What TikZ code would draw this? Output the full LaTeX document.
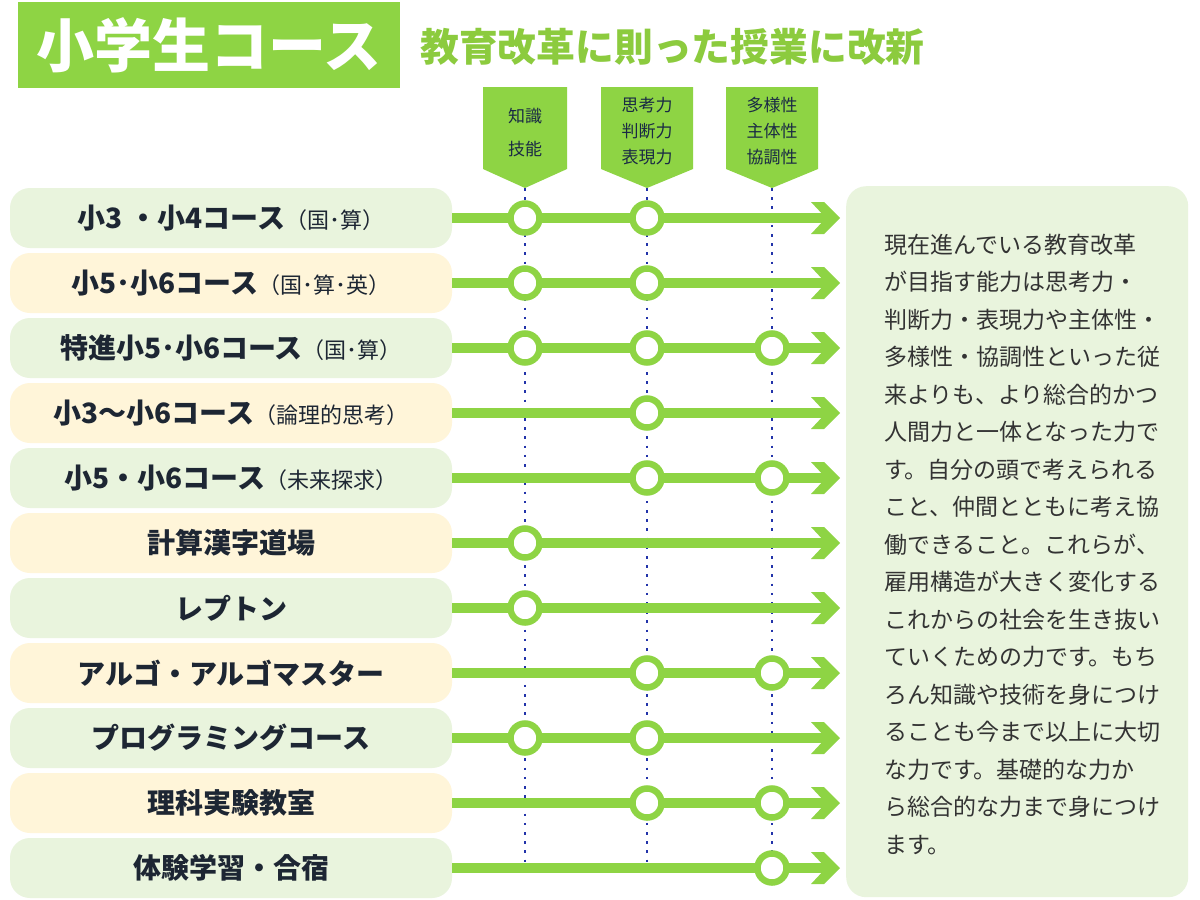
\documentclass[tikz,border=0pt]{standalone}
\usepackage{fontspec}
\newfontfamily\jp{Noto Sans CJK JP}
\definecolor{grn}{HTML}{8ED444}
\definecolor{subgrn}{HTML}{8CCB3E}
\definecolor{boxgrn}{HTML}{E9F4DD}
\definecolor{boxyel}{HTML}{FFF5D9}
\definecolor{navy}{HTML}{1D2633}
\definecolor{badgetxt}{HTML}{1A2A44}
\definecolor{dotblue}{HTML}{2233AA}
\definecolor{bodytxt}{HTML}{333333}
\newcommand\lblM[1]{{\fontsize{28}{28}\selectfont\bfseries #1}}
\newcommand\lblP[1]{{\fontsize{22}{22}\selectfont #1}}
\begin{document}
\begin{tikzpicture}[x=1pt,y=-1pt,font=\jp,
  rowbox/.style={minimum width=442,minimum height=60,rounded corners=20,inner sep=0,text=navy},
  rowline/.style={draw=grn,line width=10},
  chev/.style={fill=grn},
  ring/.style={circle,draw=grn,line width=6.5,fill=white,minimum size=29,inner sep=0},
  guide/.style={draw=dotblue,line width=2.6,dash pattern=on 2.6 off 6.6},
  badge/.style={fill=grn},
  badgetext/.style={text=badgetxt,font=\jp\fontsize{17}{26}\selectfont,align=center,inner sep=0},
  bodyline/.style={anchor=base west,inner sep=0,text=bodytxt,font=\jp\fontsize{23}{23}\selectfont}]
\useasboundingbox (0,0) rectangle (1200,900);
\fill[white] (0,0) rectangle (1200,900);
% title
\node[fill=grn,minimum width=382,minimum height=86,anchor=north west,inner sep=0,text=white] (title) at (18,2)
  {\fontsize{58}{58}\selectfont\bfseries 小学生コース};
\node[anchor=west,inner sep=0,text=subgrn] (subtitle) at (420,47)
  {\fontsize{38.8}{38.8}\selectfont\bfseries 教育改革に則った授業に改新};
% badges
\foreach \k/\x/\hw in {1/525/42,2/647/46,3/772/46}{
  \fill[badge] (\x-\hw,87) -- (\x+\hw,87) -- (\x+\hw,169) -- (\x,188) -- (\x-\hw,169) -- cycle;
  \coordinate (tip\k) at (\x,188);
  \coordinate (bot\k) at (\x,867);
}
\node[badgetext,font=\jp\fontsize{17}{33}\selectfont] (b1) at (525,133) {知識\\技能};
\node[badgetext] (b2) at (647,131) {思考力\\判断力\\表現力};
\node[badgetext] (b3) at (772,131) {多様性\\主体性\\協調性};
% guides
\foreach \k in {1,2,3}{ \draw[guide] (tip\k) -- (bot\k); }
% rows
\foreach \i/\c/\t in {
  1/boxgrn/{\lblM{小3 ・小4コース}\lblP{（国･算）}},
  2/boxyel/{\lblM{小5･小6コース}\lblP{（国･算･英）}},
  3/boxgrn/{\lblM{特進小5･小6コース}\lblP{（国･算）}},
  4/boxyel/{\lblM{小3〜小6コース}\lblP{（論理的思考）}},
  5/boxgrn/{\lblM{小5・小6コース}\lblP{（未来探求）}},
  6/boxyel/{\lblM{計算漢字道場}},
  7/boxgrn/{\lblM{レプトン}},
  8/boxyel/{\lblM{アルゴ・アルゴマスター}},
  9/boxgrn/{\lblM{プログラミングコース}},
  10/boxyel/{\lblM{理科実験教室}},
  11/boxgrn/{\lblM{体験学習・合宿}}}{
  \pgfmathsetmacro\yy{218+65*(\i-1)}
  \node[rowbox,fill=\c] (r\i) at (231,\yy) {\t};
  \coordinate (e\i) at (829,\yy);
  \draw[rowline] (r\i.east) -- (e\i);
  \fill[chev] (811,\yy-16) -- (824,\yy-16) -- (840,\yy) -- (824,\yy+16) -- (811,\yy+16) -- (826,\yy) -- cycle;
}
% rings
\foreach \i/\k/\x in {1/1/525,1/2/647,2/1/525,2/2/647,3/1/525,3/2/647,3/3/772,
  4/2/647,5/2/647,5/3/772,6/1/525,7/1/525,8/2/647,8/3/772,9/1/525,9/2/647,
  10/2/647,10/3/772,11/3/772}{
  \pgfmathsetmacro\yy{218+65*(\i-1)}
  \node[ring] (c\i-\k) at (\x,\yy) {};
}
% description
\node[fill=boxgrn,rounded corners=20,minimum width=342,minimum height=711,anchor=north west,inner sep=0] (desc) at (846,186) {};
\foreach \n/\s in {1/現在進んでいる教育改革,2/が目指す能力は思考力・,3/判断力・表現力や主体性・,
  4/多様性・協調性といった従,5/来よりも、より総合的かつ,6/人間力と一体となった力で,
  7/す。自分の頭で考えられる,8/こと、仲間とともに考え協,9/働できること。これらが、,
  10/雇用構造が大きく変化する,11/これからの社会を生き抜い,12/ていくための力です。もち,
  13/ろん知識や技術を身につけ,14/ることも今まで以上に大切,15/な力です。基礎的な力か,
  16/ら総合的な力まで身につけ,17/ます。}{
  \pgfmathsetmacro\yy{253+37.5*(\n-1)}
  \node[bodyline] (t\n) at (884,\yy) {\s};
}
\end{tikzpicture}
\end{document}
